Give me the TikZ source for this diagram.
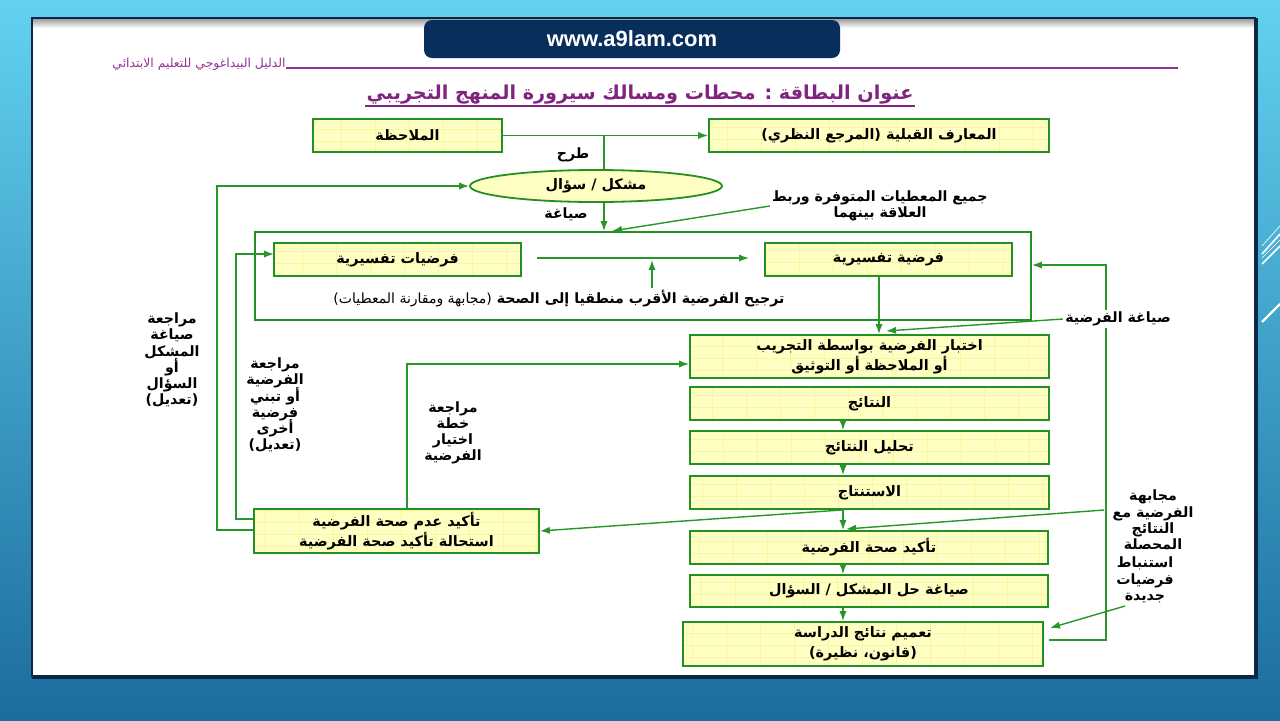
\documentclass[tikz,border=0pt]{standalone}
\usepackage{fontspec}
\setmainfont{Liberation Sans}
\newfontfamily\arabicfont[Script=Arabic]{DejaVu Sans}
\TeXXeTstate=1
\usetikzlibrary{arrows.meta,shapes.geometric}
\newcommand{\AR}[1]{{\arabicfont\beginR #1\endR}}
\newcommand{\tightls}{\setlength{\lineskiplimit}{-20pt}\setlength{\lineskip}{0pt}}
\definecolor{bgtop}{RGB}{98,210,240}
\definecolor{bgbot}{RGB}{28,108,158}
\definecolor{navy}{RGB}{8,46,92}
\definecolor{framec}{RGB}{10,40,70}
\definecolor{boxfill}{RGB}{255,255,196}
\definecolor{boxline}{RGB}{34,145,34}
\definecolor{lgreen}{RGB}{40,150,40}
\definecolor{purp}{RGB}{128,36,128}
\definecolor{hpurp}{RGB}{150,50,150}
\definecolor{gridc}{RGB}{250,246,160}
\tikzset{
  box/.style={draw=boxline, line width=0.9pt, fill=boxfill, inner sep=0pt, align=center,
    font=\tightls\arabicfont\bfseries\fontsize{7.2}{10}\selectfont,
    path picture={\draw[gridc, line width=0.3pt, xstep=17pt, ystep=6pt]
      (path picture bounding box.south west) grid (path picture bounding box.north east);}},
  ell/.style={ellipse, draw=boxline, line width=0.9pt, fill=boxfill, inner sep=0pt,
    font=\arabicfont\bfseries\fontsize{7.2}{9.5}\selectfont},
  lbl/.style={inner sep=1pt, align=center, font=\tightls\arabicfont\bfseries\fontsize{7.1}{8.1}\selectfont},
  conn/.style={draw=lgreen, line width=0.7pt},
  arr/.style={conn, -{Latex[length=5pt,width=3.6pt]}},
}
\begin{document}
\begin{tikzpicture}[x=0.5pt,y=-0.5pt]
\useasboundingbox (0,0) rectangle (1280,720);
% background
\shade[top color=bgtop, bottom color=bgbot] (0,0) rectangle (1280,720);
% decorative white lines
\draw[white, line width=0.3pt] (1262,246) -- (1280,226);
\draw[white, line width=0.8pt] (1262,254) -- (1280,234);
\draw[white, line width=0.3pt] (1262,258) -- (1280,240);
\draw[white, line width=0.8pt] (1262,264) -- (1280,246);
\draw[white, line width=1.2pt] (1262,322) -- (1280,304);
% panel
\fill[white] (32,18) rectangle (1256,677);
\shade[top color=gray!75, bottom color=white] (32,19) rectangle (1256,28);
\draw[framec, line width=1pt] (32,677) -- (32,18) -- (1256,18);
\draw[framec, line width=1.6pt] (1256,18) -- (1256,677) -- (32,677);
% site box
\node[fill=navy, rounded corners=4pt, minimum width=208pt, minimum height=19pt, text=white,
  font=\bfseries\fontsize{11}{13}\selectfont] (site) at (632,39) {www.a9lam.com};
% header
\node[anchor=east, text=hpurp, inner sep=0pt, font=\arabicfont\fontsize{6.2}{7}\selectfont] (htxt) at (286,64) {\AR{الدليل البيداغوجي للتعليم الابتدائي}};
\coordinate (hend) at (1178,68);
\draw[hpurp, line width=0.6pt] (htxt.east |- hend) -- (hend);
% title
\node[text=purp, inner sep=0.5pt, font=\arabicfont\bfseries\fontsize{9.6}{11}\selectfont] (title) at (640,95) {\AR{عنوان البطاقة : محطات ومسالك سيرورة المنهج التجريبي}};
\draw[purp, line width=0.7pt] (title.south west) -- (title.south east);

% nodes
\node[box, minimum width=94.5pt, minimum height=16.5pt] (obs) at (407.5,135.5) {\AR{الملاحظة}};
\node[box, minimum width=170pt, minimum height=16.5pt] (prior) at (879,135.5) {\AR{المعارف القبلية (المرجع النظري)}};
\node[ell, minimum width=126pt, minimum height=16pt] (prob) at (596,186) {\AR{مشكل / سؤال}};
\node[draw=boxline, line width=0.9pt, minimum width=388pt, minimum height=44pt, inner sep=0pt] (big) at (643,276) {};
\node[box, minimum width=123.5pt, minimum height=16.5pt] (hyps) at (397.5,259.5) {\AR{فرضيات تفسيرية}};
\node[box, minimum width=123.5pt, minimum height=16.5pt] (hyp) at (888.5,259.5) {\AR{فرضية تفسيرية}};
\node[box, minimum width=179.5pt, minimum height=21.5pt] (test) at (869.5,356.5) {\AR{اختبار الفرضية بواسطة التجريب}\\\AR{أو الملاحظة أو التوثيق}};
\node[box, minimum width=179.5pt, minimum height=16.5pt] (res) at (869.5,403.5) {\AR{النتائج}};
\node[box, minimum width=179.5pt, minimum height=16.5pt] (ana) at (869.5,447.5) {\AR{تحليل النتائج}};
\node[box, minimum width=179.5pt, minimum height=16.5pt] (concl) at (869.5,492.5) {\AR{الاستنتاج}};
\node[box, minimum width=179pt, minimum height=16.5pt] (conf) at (869,547.5) {\AR{تأكيد صحة الفرضية}};
\node[box, minimum width=179pt, minimum height=16pt] (sol) at (869,591) {\AR{صياغة حل المشكل / السؤال}};
\node[box, minimum width=180pt, minimum height=22pt] (gen) at (863,644) {\AR{تعميم نتائج الدراسة}\\\AR{(قانون، نظيرة)}};
\node[box, minimum width=142.5pt, minimum height=22pt] (rej) at (396.5,531) {\AR{تأكيد عدم صحة الفرضية}\\\AR{استحالة تأكيد صحة الفرضية}};

% labels
\node[lbl] (ltarh) at (573,155) {\AR{طرح}};
\node[lbl] (lsiy) at (566,214) {\AR{صياغة}};
\node[lbl] (ljam) at (880,206) {\AR{جميع المعطيات المتوفرة وربط}\\\AR{العلاقة بينهما}};
\node[lbl] (ltarj) at (559,299) {\AR{ترجيح الفرضية الأقرب منطقيا إلى الصحة {\mdseries\fontsize{7}{7}\selectfont (مجابهة ومقارنة المعطيات)}}};
\node[lbl] (lm1) at (172,360) {\AR{مراجعة}\\\AR{صياغة}\\\AR{المشكل}\\\AR{أو}\\\AR{السؤال}\\\AR{(تعديل)}};
\node[lbl] (lm2) at (275,405) {\AR{مراجعة}\\\AR{الفرضية}\\\AR{أو تبني}\\\AR{فرضية}\\\AR{أخرى}\\\AR{(تعديل)}};
\node[lbl] (lm3) at (453,433) {\AR{مراجعة}\\\AR{خطة}\\\AR{اختيار}\\\AR{الفرضية}};
\node[lbl] (lmj) at (1153,520) {\AR{مجابهة}\\\AR{الفرضية مع}\\\AR{النتائج}\\\AR{المحصلة}};
\node[lbl] (lst) at (1145,580) {\AR{استنباط}\\\AR{فرضيات}\\\AR{جديدة}};

% coordinates
\coordinate (splitx) at (604,135.5);
\coordinate (jamt) at (612,231);
\coordinate (h1) at (537,258);
\coordinate (h2) at (749,258);
\coordinate (t2) at (652,260);
\coordinate (hx) at (879,0);
\coordinate (shT) at (886,331);
\coordinate (g1) at (1049,640);
\coordinate (rl) at (1106,265);
\coordinate (cx) at (843,0);
\coordinate (mjS) at (1104,510);
\coordinate (mjT) at (846,529);
\coordinate (stS) at (1125,606);
\coordinate (stT) at (1050,628);
\coordinate (ry) at (407,364);
\coordinate (l1) at (236,519);
\coordinate (l1b) at (274,254);
\coordinate (l2) at (217,530);

% connectors
\draw[arr] (obs.east) -- (prior.west);
\draw[conn] (splitx) -- (splitx |- prob.north);
\draw[arr] (splitx |- prob.south) -- (splitx |- big.north);
\draw[arr] (ljam.west) -- (jamt);
\draw[arr] (h1) -- (h2);
\draw[arr] (ltarj.north -| t2) -- (t2);
\draw[arr] (hyp.south -| hx) -- (test.north -| hx);
\draw[arr] (g1) -| (rl) -- (rl -| big.east);
\node[lbl, fill=white] (lsh) at (1118,319) {\AR{صياغة الفرضية}};
\draw[arr] (lsh.west) -- (shT);
\draw[arr] (res.south -| cx) -- (ana.north -| cx);
\draw[arr] (ana.south -| cx) -- (concl.north -| cx);
\draw[arr] (concl.south -| cx) -- (conf.north -| cx);
\draw[arr] (conf.south -| cx) -- (sol.north -| cx);
\draw[arr] (sol.south -| cx) -- (gen.north -| cx);
\draw[arr] (concl.south -| cx) -- (rej.east);
\draw[arr] (mjS) -- (mjT);
\draw[arr] (stS) -- (stT);
\draw[arr] (rej.north -| ry) -- (ry) -- (ry -| test.west);
\draw[arr] (rej.west |- l1) -- (l1) |- (l1b);
\draw[arr] (rej.west |- l2) -- (l2) |- (prob.west);
\end{tikzpicture}
\end{document}
